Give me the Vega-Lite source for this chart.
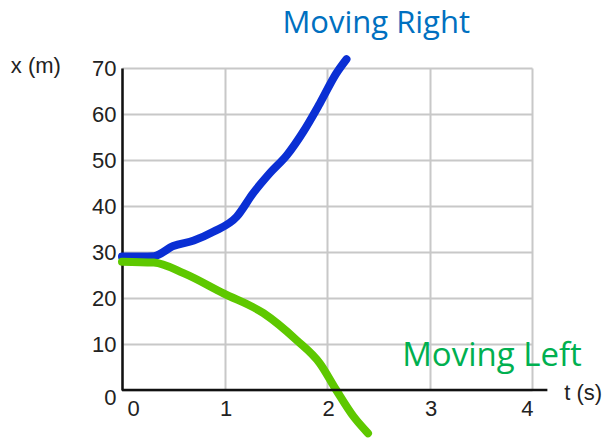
{
  "$schema": "https://vega.github.io/schema/vega-lite/v6.json",
  "width": 410,
  "height": 322,
  "autosize": {"type": "none"},
  "padding": {"left": 122, "top": 68, "right": 76, "bottom": 50},
  "background": "white",
  "config": {"view": {"stroke": null}, "font": "Liberation Sans"},
  "datasets": {
    "curves": [
      {"series": "Moving Right", "t": 0.0, "x": 29.0},
      {"series": "Moving Right", "t": 0.31, "x": 29.1},
      {"series": "Moving Right", "t": 0.5, "x": 31.3},
      {"series": "Moving Right", "t": 0.7, "x": 32.5},
      {"series": "Moving Right", "t": 0.89, "x": 34.4},
      {"series": "Moving Right", "t": 1.12, "x": 37.7},
      {"series": "Moving Right", "t": 1.28, "x": 42.8},
      {"series": "Moving Right", "t": 1.44, "x": 47.1},
      {"series": "Moving Right", "t": 1.61, "x": 51.1},
      {"series": "Moving Right", "t": 1.77, "x": 56.2},
      {"series": "Moving Right", "t": 1.93, "x": 62.3},
      {"series": "Moving Right", "t": 2.09, "x": 68.8},
      {"series": "Moving Right", "t": 2.19, "x": 71.9},
      {"series": "Moving Left", "t": 0.0, "x": 27.9},
      {"series": "Moving Left", "t": 0.31, "x": 27.7},
      {"series": "Moving Left", "t": 0.6, "x": 25.4},
      {"series": "Moving Left", "t": 0.99, "x": 21.0},
      {"series": "Moving Left", "t": 1.38, "x": 16.7},
      {"series": "Moving Left", "t": 1.7, "x": 10.9},
      {"series": "Moving Left", "t": 1.93, "x": 5.8},
      {"series": "Moving Left", "t": 2.09, "x": 0.0},
      {"series": "Moving Left", "t": 2.26, "x": -5.8},
      {"series": "Moving Left", "t": 2.4, "x": -9.4}
    ],
    "labels": [
      {"label": "Moving Right"},
      {"label": "Moving Left"},
      {"label": "x (m)"},
      {"label": "t (s)"}
    ]
  },
  "layer": [
    {
      "data": {"name": "curves"},
      "mark": {
        "type": "line",
        "strokeWidth": 8,
        "strokeCap": "round",
        "strokeJoin": "round",
        "interpolate": "monotone"
      },
      "encoding": {
        "x": {
          "field": "t",
          "type": "quantitative",
          "scale": {"domain": [0, 4], "nice": false},
          "axis": {
            "values": [0, 1, 2, 3, 4],
            "format": "d",
            "grid": true,
            "gridColor": "#c8c8c8",
            "gridWidth": 2,
            "domain": false,
            "ticks": false,
            "labelFontSize": 22,
            "labelColor": "#222222",
            "labelPadding": 8,
            "labelOffset": {"expr": "datum.value == 0 ? 5 : 1"},
            "title": null
          }
        },
        "y": {
          "field": "x",
          "type": "quantitative",
          "scale": {"domain": [0, 70], "nice": false},
          "axis": {
            "values": [0, 10, 20, 30, 40, 50, 60, 70],
            "grid": true,
            "gridColor": "#c8c8c8",
            "gridWidth": 2,
            "domain": true,
            "domainColor": "#111111",
            "domainWidth": 2.5,
            "ticks": false,
            "labelFontSize": 22,
            "labelColor": "#222222",
            "labelPadding": 6,
            "labelOffset": {"expr": "datum.value == 0 ? 7 : 0"},
            "title": null
          }
        },
        "color": {
          "field": "series",
          "type": "nominal",
          "scale": {"domain": ["Moving Right", "Moving Left"], "range": ["#0a2fd4", "#5ec800"]},
          "legend": null
        }
      }
    },
    {
      "data": {"values": [{"axis": "t"}]},
      "mark": {"type": "rule", "color": "#111111", "strokeWidth": 2.5},
      "encoding": {
        "x": {"datum": 0},
        "x2": {"datum": 4.15},
        "y": {"datum": 0}
      }
    },
    {
      "data": {"name": "labels"},
      "transform": [{"filter": "datum.label == 'Moving Right'"}],
      "mark": {"type": "text", "font": "Open Sans", "fontSize": 31, "color": "#0070c0", "align": "center", "baseline": "alphabetic"},
      "encoding": {
        "x": {"datum": 2.48},
        "y": {"datum": 77.6},
        "text": {"field": "label"}
      }
    },
    {
      "data": {"name": "labels"},
      "transform": [{"filter": "datum.label == 'Moving Left'"}],
      "mark": {"type": "text", "font": "Open Sans", "fontSize": 33, "color": "#00b050", "align": "center", "baseline": "alphabetic"},
      "encoding": {
        "x": {"datum": 3.61},
        "y": {"datum": 5.2},
        "text": {"field": "label"}
      }
    },
    {
      "data": {"name": "labels"},
      "transform": [{"filter": "datum.label == 'x (m)'"}],
      "mark": {"type": "text", "fontSize": 22, "color": "#222222", "align": "center", "baseline": "middle"},
      "encoding": {
        "x": {"datum": -0.84},
        "y": {"datum": 70.4},
        "text": {"field": "label"}
      }
    },
    {
      "data": {"name": "labels"},
      "transform": [{"filter": "datum.label == 't (s)'"}],
      "mark": {"type": "text", "fontSize": 22, "color": "#222222", "align": "center", "baseline": "middle"},
      "encoding": {
        "x": {"datum": 4.5},
        "y": {"datum": -0.6},
        "text": {"field": "label"}
      }
    }
  ]
}
